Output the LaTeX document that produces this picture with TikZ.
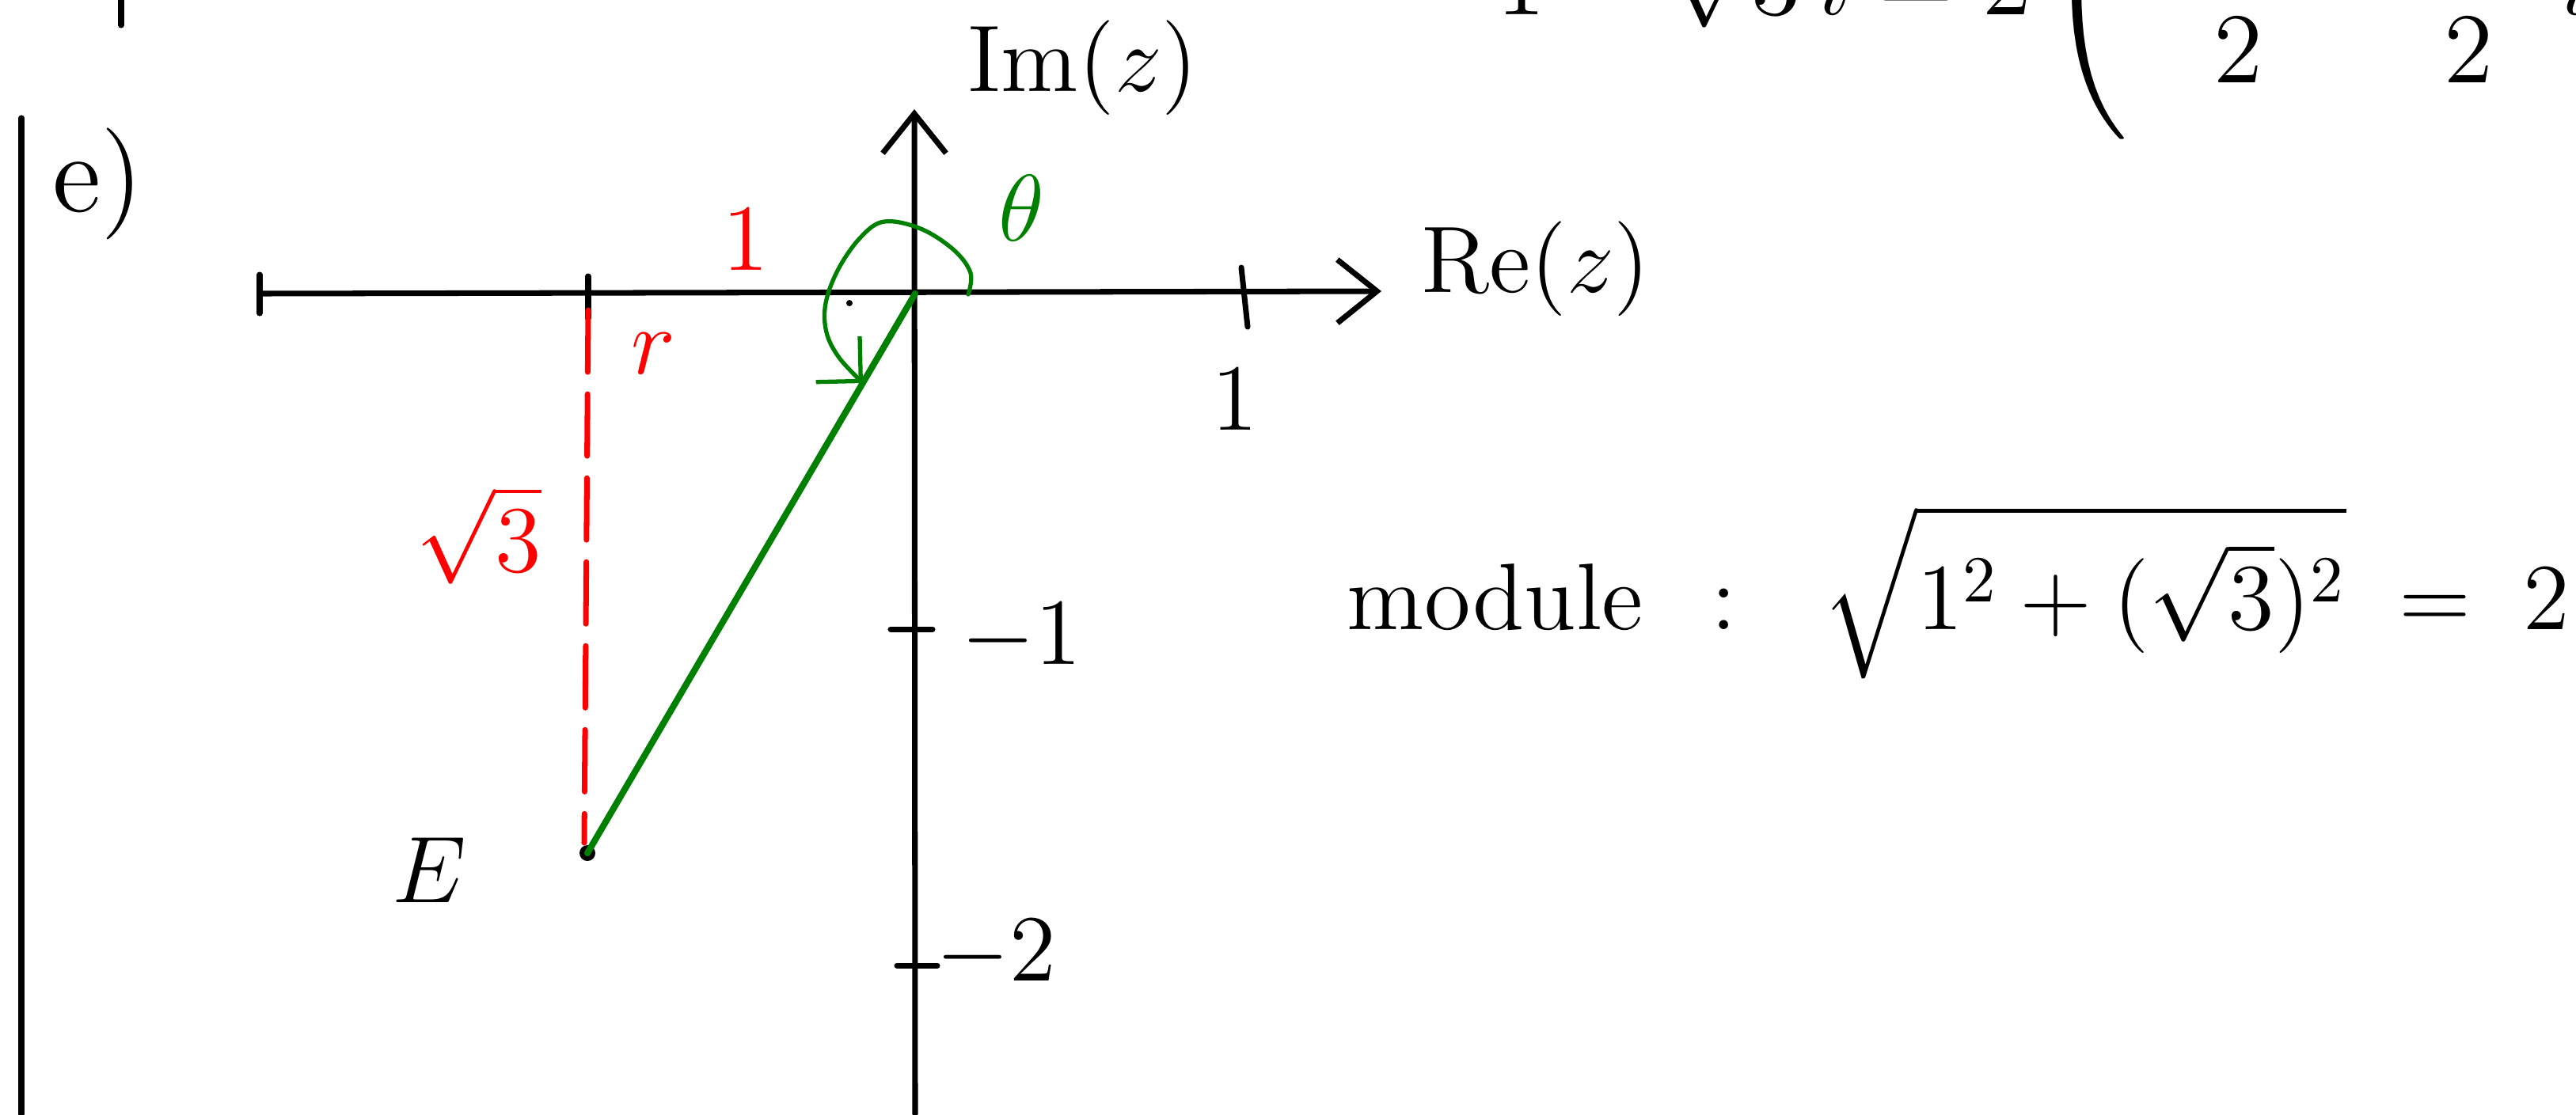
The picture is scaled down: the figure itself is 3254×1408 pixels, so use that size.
\documentclass[tikz,border=0pt]{standalone}
\usepackage{amsmath}
\usetikzlibrary{arrows.meta}
\definecolor{pen}{RGB}{0,128,0}
\tikzset{
  axisline/.style={line width=2pt, line cap=round},
  axtick/.style={line width=2pt, line cap=round},
  barb/.style={-{Straight Barb[length=5mm,width=8mm]}},
  lbl/.style={font=\Large, scale=2.36, inner sep=0pt},
  biglbl/.style={font=\Large, scale=2.78, inner sep=0pt},
  toplbl/.style={font=\Large, scale=2.5, inner sep=0pt},
  redlbl/.style={lbl, text=red},
  greenlbl/.style={lbl, text=pen},
  gline/.style={draw=pen, line width=2.3pt, line cap=round},
  garc/.style={draw=pen, line width=1.5pt, line cap=round, line join=round,
     -{Straight Barb[length=4mm,width=8mm]}},
  rdash/.style={draw=red, line width=2pt, line cap=round, dash pattern=on 0.78cm off 0.28cm},
}
\begin{document}
\begin{tikzpicture}[x=0.01cm, y=-0.01cm]
\useasboundingbox (0,0) rectangle (3254,1408);
\clip (0,0) rectangle (3254,1408);

% margin lines
\coordinate (mTop) at (153,0);
\coordinate (mTopEnd) at (153,32);
\coordinate (mLeft) at (27,149);
\coordinate (mLeftEnd) at (27,1408);
\draw[axisline] (mTop) -- (mTopEnd);
\draw[axisline] (mLeft) -- (mLeftEnd);
\node[biglbl, anchor=center] (part) at (124,232) {e)};

% partial expression cut at the top
\node[toplbl, anchor=base west] (topexpr) at (1790,18)
  {$-1-\sqrt{3}\,i=2\left(-\dfrac{1}{2}-\dfrac{\sqrt{3}}{2}\,i\right)$};

% axes
\coordinate (O) at (1156,371);
\coordinate (xL) at (328,371);
\coordinate (xR) at (1745,368);
\coordinate (yB) at (1156,1408);
\coordinate (yT) at (1155,138);
\draw[axisline, barb] (xL) -- (xR);
\draw[axisline, barb] (yB) -- (yT);

% ticks
\draw[axtick] (328,347) -- (328,396);
\draw[axtick] (743,349) -- (743,402);
\draw[axtick] (1568,338) -- (1576,413);
\draw[axtick] (1125,795) -- (1178,795);
\draw[axtick] (1133,1220) -- (1184,1220);

% axis labels
\node[lbl] (im) at (1368,86) {$\mathrm{Im}(z)$};
\node[lbl] (re) at (1940,340) {$\mathrm{Re}(z)$};
\node[lbl] (one) at (1560,505) {$1$};
\node[lbl] (mone) at (1290,806) {$-1$};
\node[lbl] (mtwo) at (1258,1206) {$-2$};

% point E
\coordinate (E) at (742,1078);
\fill (E) circle[radius=0.1cm];
\node[lbl] (Elbl) at (542,1100) {$E$};

% red construction
\coordinate (dTop) at (743,392);
\coordinate (dBot) at (738,1065);
\draw[rdash] (dTop) -- (dBot);
\node[redlbl] (rOne) at (942,303) {$1$};
\node[redlbl] (rR) at (825,447) {$r$};
\node[redlbl] (rS) at (605,676) {$\sqrt{3}$};

% green vector and angle
\draw[gline] (O) -- (E);
\draw[garc] plot[smooth, tension=0.6] coordinates {(1223,372) (1226,345) (1205,316) (1163,289) (1117,280) (1087,300) (1059,340) (1043,383) (1044,420) (1060,452) (1090,484)};
\node[greenlbl] (theta) at (1290,263) {$\theta$};
\fill (1073,383) circle[radius=0.04cm];

% modulus
\node[lbl, anchor=base west] (modw) at (1700,795) {module};
\node[lbl, anchor=base] (colon) at (2178,795) {:};
\node[lbl, anchor=base west] (modv) at (2300,795) {$\sqrt{1^2+(\sqrt{3})^2}\;=\;2$};
\end{tikzpicture}
\end{document}
